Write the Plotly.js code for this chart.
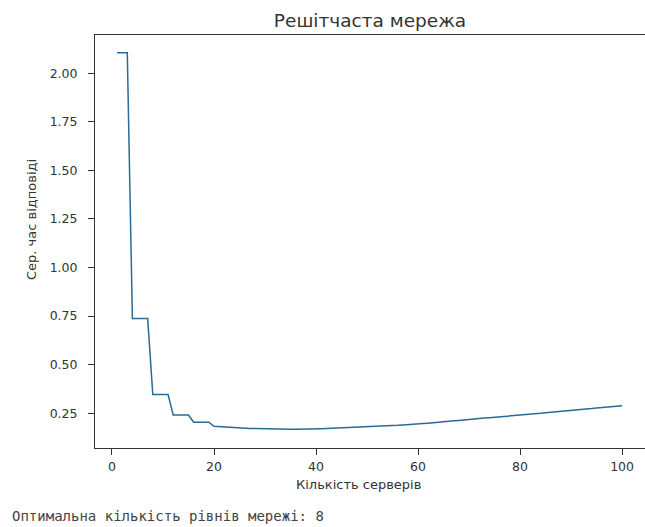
<!DOCTYPE html>
<html>
<head>
<meta charset="utf-8">
<script src="https://cdn.plot.ly/plotly-3.0.1.min.js"></script>
<style>
  html, body { margin: 0; padding: 0; background: #fff; }
  #chart { width: 645px; height: 527px; }
</style>
</head>
<body>
<div id="chart"></div>
<script>
// Number of servers in the lattice network
const servers = [
  1, 2, 3, 4, 5, 6, 7, 8, 9, 10,
  11, 12, 13, 14, 15, 16, 17, 18, 19, 20,
  21, 22, 23, 24, 25, 26, 27, 28, 29, 30,
  31, 32, 33, 34, 35, 36, 37, 38, 39, 40,
  41, 42, 43, 44, 45, 46, 47, 48, 49, 50,
  51, 52, 53, 54, 55, 56, 57, 58, 59, 60,
  61, 62, 63, 64, 65, 66, 67, 68, 69, 70,
  71, 72, 73, 74, 75, 76, 77, 78, 79, 80,
  81, 82, 83, 84, 85, 86, 87, 88, 89, 90,
  91, 92, 93, 94, 95, 96, 97, 98, 99, 100
];

// Mean response time for each server count
const meanResponse = [
  2.105, 2.105, 2.105, 0.737, 0.737, 0.737, 0.737, 0.346, 0.346, 0.346,
  0.346, 0.241, 0.241, 0.241, 0.241, 0.204, 0.204, 0.204, 0.204, 0.183,
  0.181, 0.179, 0.177, 0.176, 0.174, 0.173, 0.172, 0.171, 0.170, 0.169,
  0.168, 0.168, 0.167, 0.167, 0.167, 0.167, 0.167, 0.168, 0.168, 0.169,
  0.170, 0.171, 0.172, 0.173, 0.174, 0.175, 0.176, 0.177, 0.178, 0.180,
  0.181, 0.182, 0.184, 0.185, 0.187, 0.188, 0.190, 0.191, 0.193, 0.195,
  0.197, 0.199, 0.202, 0.204, 0.206, 0.209, 0.211, 0.213, 0.216, 0.218,
  0.220, 0.223, 0.225, 0.227, 0.229, 0.232, 0.234, 0.236, 0.239, 0.241,
  0.243, 0.246, 0.248, 0.250, 0.253, 0.255, 0.258, 0.260, 0.262, 0.265,
  0.267, 0.269, 0.272, 0.274, 0.277, 0.279, 0.281, 0.284, 0.286, 0.288
];

const xTicks = [0, 20, 40, 60, 80, 100];
const yTicks = [0.25, 0.50, 0.75, 1.00, 1.25, 1.50, 1.75, 2.00];

const chartTitle = 'Решітчаста мережа';
const xLabel = 'Кількість серверів';
const yLabel = 'Сер. час відповіді';
const optimalLevels = 8;
const summary = 'Оптимальна кількість рівнів мережі: ' + optimalLevels;

const tickFont = { family: 'DejaVu Sans, sans-serif', size: 12.5, color: '#333' };
const labelFont = { family: 'DejaVu Sans, sans-serif', size: 13, color: '#333' };

const trace = {
  x: servers,
  y: meanResponse,
  type: 'scatter',
  mode: 'lines',
  line: { color: '#2a6a96', width: 1.5 },
  hoverinfo: 'x+y'
};

const layout = {
  width: 645,
  height: 527,
  margin: { l: 95, r: 0, t: 35, b: 79 },
  paper_bgcolor: '#ffffff',
  plot_bgcolor: '#ffffff',
  showlegend: false,
  title: {
    text: chartTitle,
    font: { family: 'DejaVu Sans, sans-serif', size: 18.5, color: '#333' },
    x: 0.5, xref: 'paper', xanchor: 'center',
    y: 0.962, yref: 'container', yanchor: 'middle'
  },
  xaxis: {
    range: [-3.33, 104.5],
    tickmode: 'array',
    tickvals: xTicks,
    ticktext: xTicks.map(String),
    ticks: 'outside', ticklen: 6, tickwidth: 1, tickcolor: '#333',
    ticklabelstandoff: 1,
    showline: true, linecolor: '#333', linewidth: 1, mirror: true,
    showgrid: false, zeroline: false,
    tickfont: tickFont
  },
  yaxis: {
    range: [0.071, 2.197],
    tickmode: 'array',
    tickvals: yTicks,
    ticktext: yTicks.map(v => v.toFixed(2)),
    ticks: 'outside', ticklen: 6, tickwidth: 1, tickcolor: '#333',
    ticklabelstandoff: 8,
    showline: true, linecolor: '#333', linewidth: 1, mirror: false,
    showgrid: false, zeroline: false,
    tickfont: tickFont
  },
  annotations: [
    {
      // x axis label
      text: xLabel,
      xref: 'paper', yref: 'paper',
      x: (358 - 95) / 550, y: (448 - 484) / 413,
      xanchor: 'center', yanchor: 'middle',
      showarrow: false, font: labelFont
    },
    {
      // y axis label
      text: yLabel,
      xref: 'paper', yref: 'paper',
      x: (31 - 95) / 550, y: (448 - 220) / 413,
      xanchor: 'center', yanchor: 'middle',
      textangle: -90,
      showarrow: false, font: labelFont
    },
    {
      text: summary,
      xref: 'paper', yref: 'paper',
      x: (10 - 95) / 550, y: (448 - 516) / 413,
      xanchor: 'left', yanchor: 'middle',
      showarrow: false,
      font: { family: 'DejaVu Sans Mono, monospace', size: 14, color: '#444' }
    }
  ]
};

Plotly.newPlot('chart', [trace], layout, { displayModeBar: false, staticPlot: true });
</script>
</body>
</html>
